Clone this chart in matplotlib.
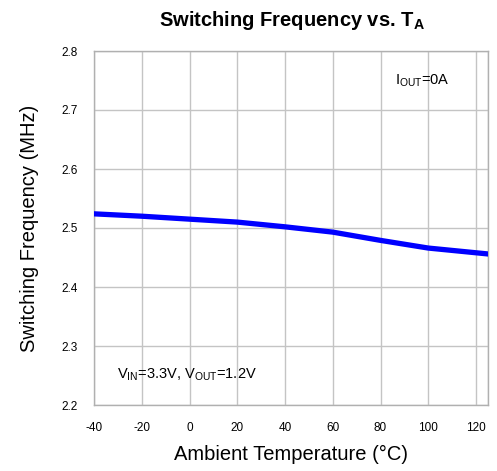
import matplotlib
matplotlib.use('Agg')
import matplotlib.pyplot as plt

plt.rcParams['font.family'] = ['Liberation Sans', 'DejaVu Sans']
plt.rcParams['mathtext.fontset'] = 'custom'
plt.rcParams['mathtext.rm'] = 'Liberation Sans'
plt.rcParams['mathtext.bf'] = 'Liberation Sans:bold'
plt.rcParams['axes.unicode_minus'] = False

# data
temp = [-40, -20, 0, 20, 40, 60, 80, 100, 125]
freq = [2.524, 2.520, 2.515, 2.510, 2.502, 2.493, 2.479, 2.466, 2.456]
x_ticks = [-40, -20, 0, 20, 40, 60, 80, 100, 120]
y_ticks = [2.2, 2.3, 2.4, 2.5, 2.6, 2.7, 2.8]

fig = plt.figure(figsize=(4.97, 4.71), dpi=100)
ax = fig.add_axes([94/497, 1 - 405/471, (488-94)/497, (405-51)/471])

ax.plot(temp, freq, color='#0000ff', linewidth=3.8, solid_capstyle='round', zorder=3)

ax.set_xlim(-40, 125)
ax.set_ylim(2.2, 2.8)
ax.set_xticks(x_ticks)
ax.set_yticks(y_ticks)
ax.set_yticklabels(['%.1f' % v for v in y_ticks])
ax.tick_params(length=0, labelsize=8.5, pad=12)
ax.grid(True, color='#c4c4c4', linewidth=1)
ax.axvline(125, color='#c4c4c4', linewidth=1)
for s in ax.spines.values():
    s.set_color('#b0b0b0')
    s.set_linewidth(1)

ax.set_xlabel('Ambient Temperature (°C)', fontsize=14.5, labelpad=8)
ax.set_ylabel('Switching Frequency (MHz)', fontsize=14.5, labelpad=16)
fig.text(0.587, 1 - 20/471, r'Switching Frequency vs. T$_\mathbf{A}$', ha='center', va='center',
         fontsize=14.5, fontweight='bold')

ax.text(86, 2.749, r'I$_\mathregular{OUT}$=0A', fontsize=10.5, va='center')
ax.text(-30.5, 2.251, r'V$_\mathregular{IN}$=3.3V, V$_\mathregular{OUT}$=1.2V', fontsize=10.5, va='center')

fig.savefig('out.png', dpi=100)
